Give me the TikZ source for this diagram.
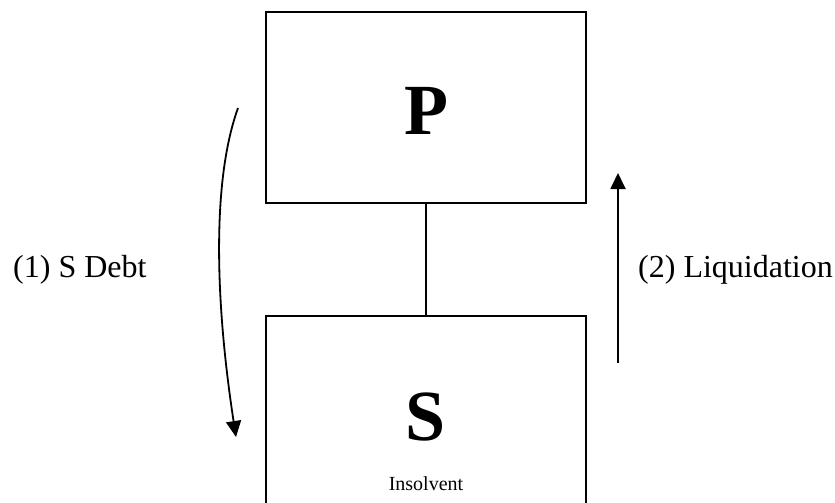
\documentclass[tikz,border=0pt]{standalone}
\usepackage{fontspec}
\setmainfont{Liberation Serif}
\usepackage{tikz}
\usetikzlibrary{arrows.meta,positioning,calc}
\tikzset{
    entitybox/.style={
        draw=black, line width=2.4pt,
        minimum width=320pt, minimum height=191pt,
        inner sep=0pt, sharp corners
    },
    flowarrow/.style={
        -{Triangle[length=16pt,width=15pt]}, line width=1.8pt, color=black
    },
    flowlabel/.style={
        font=\fontsize{32}{38}\selectfont, anchor=base west, inner sep=0pt
    },
    bigletter/.style={
        font=\fontsize{72}{80}\selectfont\bfseries, anchor=base, inner sep=0pt
    },
}
\begin{document}
\begin{tikzpicture}[x=1pt,y=-1pt]
    % page frame
    \useasboundingbox (0,0) rectangle (835,503);
    \clip (0,0) rectangle (835,503);

    % parent and subsidiary
    \node[entitybox] (P) at (426,107.5) {};
    \node[entitybox] (S) at (426,411.5) {};
    \node[bigletter] (Pname) at (426,134) {P};
    \node[bigletter] (Sname) at (426,440) {S};
    \node[font=\fontsize{20}{24}\selectfont, anchor=base, inner sep=0pt] (Sstate) at (426,490) {Insolvent};

    % ownership link
    \draw[line width=2pt] (P.south) -- (S.north);

    % (1) debt flows down
    \coordinate (debtstart) at (238,108);
    \coordinate (debtend) at (236,437);
    \draw[flowarrow] (debtstart) .. controls (212,180) and (215,300) .. (debtend);
    \node[flowlabel] (debt) at (13,277) {(1) S Debt};

    % (2) liquidation flows up
    \coordinate (liqstart) at (618,363);
    \coordinate (liqend) at (618,173);
    \draw[flowarrow] (liqstart) -- (liqend);
    \node[flowlabel] (liq) at (638,277) {(2) Liquidation};
\end{tikzpicture}
\end{document}
